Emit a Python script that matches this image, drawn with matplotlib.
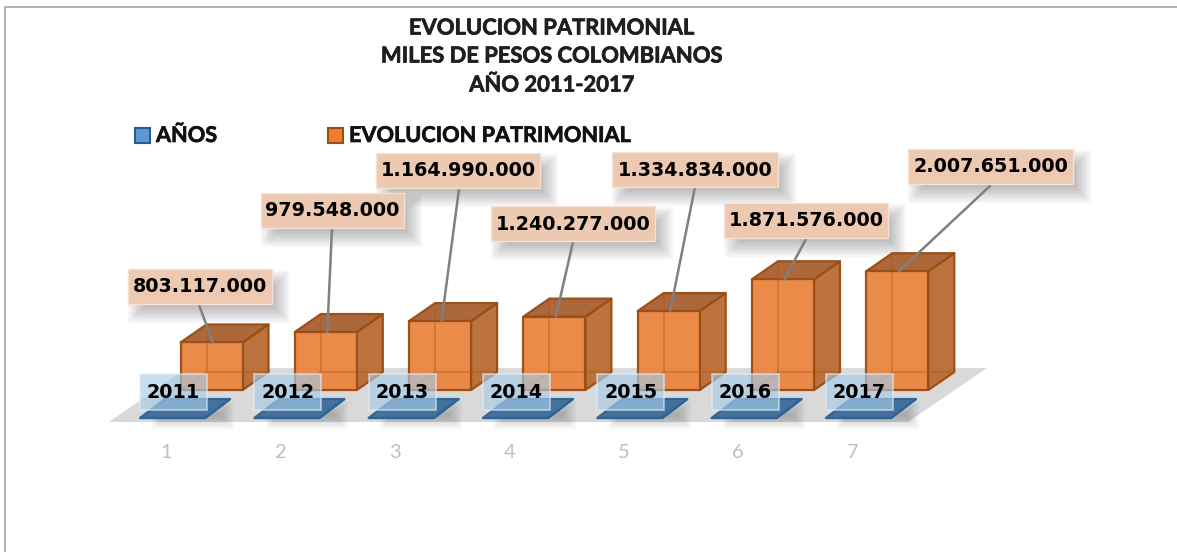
import matplotlib
matplotlib.use("Agg")
import matplotlib.pyplot as plt
import matplotlib.patheffects as pe
from matplotlib.patches import Polygon, Rectangle
from matplotlib.transforms import Affine2D

# =========================
# Datos
# =========================
anios = [2011, 2012, 2013, 2014, 2015, 2016, 2017]
patrimonio = [803117000, 979548000, 1164990000, 1240277000, 1334834000, 1871576000, 2007651000]
categorias = ["1", "2", "3", "4", "5", "6", "7"]

titulo = "EVOLUCION PATRIMONIAL\nMILES DE PESOS COLOMBIANOS\nAÑO 2011-2017"
serie_anios = "AÑOS"
serie_patrimonio = "EVOLUCION PATRIMONIAL"

# =========================
# Layout (pixeles de la imagen)
# =========================
W, H = 1177, 552
paso_px = 114.3       # distancia entre categorias
x0_px = 211.5         # centro de la primera barra
y0_px = 390           # base de las barras
unidad = 16.9e6       # pesos por pixel

ancho_px = 62
fondo_dx, fondo_dy = 26, 18

# cajas de etiqueta: izq, der, arriba, abajo
cajas = [
    (128, 272, 269, 304),
    (261, 404, 193, 228),
    (376, 540, 153, 188),
    (491, 655, 206, 241),
    (612, 778, 152, 187),
    (724, 888, 203, 238),
    (908, 1073, 149, 184),
]
# inicio de las lineas guia, en pixeles
guia_ini = [(199, 305), (332, 228), (459, 189), (573, 242), (695, 187), (806, 239), (990, 186)]
guia_dx = 1.5

fig = plt.figure(figsize=(W / 100, H / 100), dpi=100, facecolor="white")
ax = fig.add_axes([0, 0, 1, 1])
ax.set_xlim(-x0_px / paso_px, (W - x0_px) / paso_px)
ax.set_ylim(-(H - y0_px) * unidad, y0_px * unidad)
ax.axis("off")

# transformacion en pixeles con el origen arriba
px = Affine2D().scale(1 / W, -1 / H).translate(0, 1) + fig.transFigure
FUENTE = "Lato"
FUENTE_NUM = "DejaVu Sans"
# Lato bold queda algo fino al lado del original
trazo = [pe.withStroke(linewidth=0.5, foreground="#1A1A1A")]


def sombra(x1, x2, y1, y2, dx=9, dy=10, z=1, alfa=0.03, pasos=10):
    # sombra difusa hecha con rectangulos apilados
    for k in range(pasos):
        p = 9 - 2 * k
        ax.add_patch(Rectangle((x1 + dx - p, y1 + dy - p), x2 - x1 + 2 * p, y2 - y1 + 2 * p,
                               transform=px, fc="black", ec="none", alpha=alfa, zorder=z))


def prisma(xc, base, valor, ancho, dx, dy, frente, lado, techo, borde, z, aristas=True):
    a = ancho / paso_px / 2
    ddx = dx / paso_px
    ddy = dy * unidad
    top = base + valor
    izq, der = xc - a, xc + a
    caras = [
        ([(der, base), (der + ddx, base + ddy), (der + ddx, top + ddy), (der, top)], lado),
        ([(izq, top), (der, top), (der + ddx, top + ddy), (izq + ddx, top + ddy)], techo),
        ([(izq, base), (der, base), (der, top), (izq, top)], frente),
    ]
    for pts, color in caras:
        ax.add_patch(Polygon(pts, closed=True, fc=color, ec=borde, lw=1.6, alpha=0.97,
                             joinstyle="round", zorder=z))
    if aristas:
        # aristas traseras que se ven a traves de las caras
        ax.plot([izq + ddx, izq + ddx], [base + ddy, top + ddy], color="#B4540F", lw=1.3, alpha=0.4, zorder=z + 0.1)
        ax.plot([izq, izq + ddx, der + ddx], [base, base + ddy, base + ddy], color="#B4540F", lw=1.3, alpha=0.4, zorder=z + 0.1)


# borde del grafico
ax.plot([5, 5, W], [H, 7, 7], transform=px, color="#A6A6A6", lw=1.2, zorder=0.5)

# piso
ax.add_patch(Polygon([(109, 422), (908, 422), (987, 368), (187, 368)], closed=True, transform=px,
                     fc="#D9D9D9", ec="none", zorder=1))

# barras de patrimonio
for i, v in enumerate(patrimonio):
    prisma(i, 0, v, ancho_px, fondo_dx, fondo_dy, "#EA8743", "#BB6E38", "#A96333", "#9A4E16", 3)

# barras de anios (casi planas a esta escala)
for i, v in enumerate(anios):
    xc = i - 39 / paso_px
    base = -28 * unidad
    sx = x0_px + i * paso_px - 39
    for k in range(7):
        p = 7 - 2 * k
        ax.add_patch(Rectangle((sx - 20 + 6 - p, 408 - p), 68 + 2 * p, 14 + 2 * p, transform=px,
                               fc="black", ec="none", alpha=0.03, zorder=4))
    prisma(xc, base, v, 65, 25, 19, "#2F6496", "#2F6496", "#3F6F9C", "#2F6496", 5, aristas=False)

# etiquetas de anio
for i, v in enumerate(anios):
    x1 = 140 + i * paso_px
    ax.add_patch(Rectangle((x1, 374), 67, 36, transform=px, fc="#A9CBE8", ec="#E4EEF7",
                           lw=1.2, alpha=0.65, zorder=6))
    ax.text(x1 + 33.5, 392, str(v), transform=px, ha="center", va="center", fontsize=13.8,
            fontweight="bold", family=FUENTE_NUM, color="black", zorder=7)

# etiquetas de valor y lineas guia
for i, v in enumerate(patrimonio):
    ax.annotate("", xy=(i + guia_dx / paso_px, v), xycoords="data",
                xytext=guia_ini[i], textcoords=px,
                arrowprops=dict(arrowstyle="-", color="#808080", lw=1.8, shrinkA=0, shrinkB=0),
                zorder=8)
    x1, x2, y1, y2 = cajas[i]
    sombra(x1, x2, y1, y2, z=2)
    ax.add_patch(Rectangle((x1, y1), x2 - x1, y2 - y1, transform=px, fc="#EDC9B2", ec="#F6E2D5",
                           lw=1, zorder=9))
    ax.text((x1 + x2) / 2, (y1 + y2) / 2 + 0.5, f"{v:,}".replace(",", "."), transform=px, ha="center",
            va="center", fontsize=13.8, fontweight="bold", family=FUENTE_NUM, color="black", zorder=10)

# categorias
for i, c in enumerate(categorias):
    ax.text(i - 45 / paso_px, -62 * unidad, c, ha="center", va="center", fontsize=14.5,
            family=FUENTE, color="#BFBFBF")

# titulo
for linea, y in zip(titulo.split("\n"), [28, 56, 85]):
    ax.text(552, y, linea, transform=px, ha="center", va="center", fontsize=15.8,
            fontweight="bold", family=FUENTE, color="#1F1F1F", path_effects=trazo)

# leyenda
ax.add_patch(Rectangle((134.5, 128), 15, 15, transform=px, fc="#5B9BD5", ec="#2A5C8A", lw=1.5))
ax.text(156, 135.5, serie_anios, transform=px, ha="left", va="center", fontsize=15.6,
        fontweight="bold", family=FUENTE, color="#111111", path_effects=trazo)
ax.add_patch(Rectangle((327.5, 128), 15, 15, transform=px, fc="#ED7D31", ec="#9A4E16", lw=1.5))
ax.text(349, 135.5, serie_patrimonio, transform=px, ha="left", va="center", fontsize=15.6,
        fontweight="bold", family=FUENTE, color="#111111", path_effects=trazo)

plt.savefig("out.png", dpi=100)
